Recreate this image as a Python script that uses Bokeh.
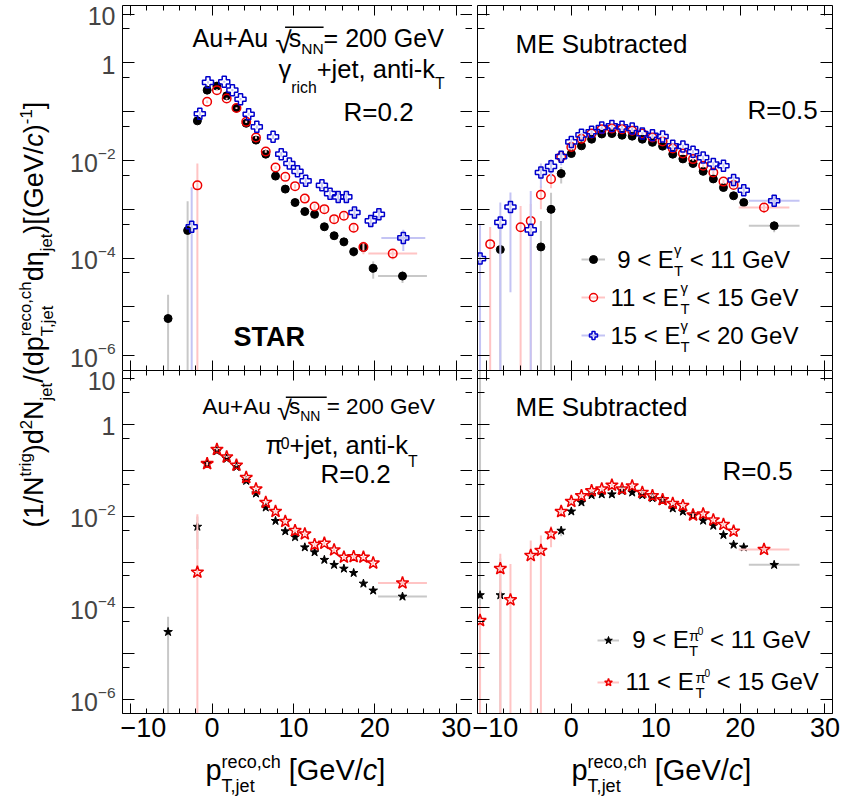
import math
from bokeh.plotting import figure
from bokeh.models import (Range1d, LinearAxis, LogAxis, FixedTicker, Label,
                          BoxAnnotation, Legend, LegendItem, ColumnDataSource,
                          CustomJSTickFormatter)
from bokeh.layouts import row, column
from bokeh.embed import file_html
from bokeh.resources import INLINE

FONT = "Liberation Sans"

# ---------------------------------------------------------------------------
# Per-trigger recoil-jet yields vs p_T,jet^reco,ch [GeV/c]
#   *_x : bin centre, *_y : yield, *_e : statistical uncertainty
#   the last entry of each series is a merged wide bin (half width in *_lastw)
# ---------------------------------------------------------------------------

# gamma_rich + jet, anti-kT R = 0.2
gr02_09_11_x = [-5.4, -3.0, -1.8, -0.6, 0.6, 1.8, 3.0, 4.2, 5.4, 6.6, 7.8, 9.0, 10.2,
                11.4, 12.6, 13.8, 15.0, 16.2, 17.4, 18.6, 19.8, 23.4]
gr02_09_11_y = [5.8e-6, 3.7e-4, 0.065, 0.277, 0.335, 0.212, 0.119, 0.058, 0.0262, 0.0135,
                0.0048, 0.0026, 0.00138, 9.0e-4, 7.9e-4, 4.4e-4, 2.88e-4, 2.16e-4, 1.36e-4,
                1.65e-4, 6.2e-5, 4.3e-5]
gr02_09_11_e = [1.2e-5, 1.1e-3, 0.006, 0.012, 0.012, 0.008, 0.005, 0.003, 0.0015, 0.0009,
                0.0004, 0.00025, 0.00015, 0.00011, 0.0001, 7e-5, 5e-5, 4e-5, 3e-5, 3.5e-5,
                2.4e-5, 1.2e-5]

gr02_11_15_x = [-1.8, -0.6, 0.6, 1.8, 3.0, 4.2, 5.4, 6.6, 7.8, 9.0, 10.2, 11.4, 12.6, 13.8,
                15.0, 16.2, 17.4, 18.6, 22.2]
gr02_11_15_y = [3.1e-3, 0.16, 0.277, 0.186, 0.119, 0.062, 0.0296, 0.0153, 0.0072, 0.00463,
                0.00299, 0.00166, 0.00114, 0.00101, 6.3e-4, 7.4e-4, 4.2e-4, 1.7e-4, 1.24e-4]
gr02_11_15_e = [5.6e-3, 0.01, 0.012, 0.008, 0.005, 0.003, 0.0015, 0.0009, 0.0005, 0.0004,
                0.0003, 0.0002, 0.00015, 0.00015, 0.0001, 0.00012, 9e-5, 5e-5, 3e-5]

gr02_15_20_x = [-2.5, -1.5, -0.5, 1.5, 2.5, 3.5, 4.5, 5.5, 7.5, 8.5, 9.5, 10.5, 11.5,
                13.5, 14.5, 15.5, 16.5, 17.5, 19.5, 20.5, 23.5]
gr02_15_20_y = [4.4e-4, 0.091, 0.40, 0.41, 0.277, 0.18, 0.089, 0.049, 0.0306, 0.0135,
                0.0087, 0.006, 0.00384, 0.0031, 0.0021, 0.0018, 0.0018, 8.6e-4, 5.8e-4,
                7.9e-4, 2.6e-4]
gr02_15_20_e = [2.4e-3, 0.01, 0.02, 0.02, 0.015, 0.01, 0.006, 0.004, 0.003, 0.0015,
                0.001, 0.0008, 0.0006, 0.0005, 0.0004, 0.0004, 0.0004, 0.0002, 0.00015,
                0.0002, 1.2e-4]
gr02_lastw = [3.0, 3.0, 2.7]

# gamma_rich + jet, anti-kT R = 0.5, mixed-event subtracted
gr05_09_11_x = [-8.4, -3.6, -2.4, -1.2, 0.0, 1.2, 2.4, 3.6, 4.8, 6.0, 7.2, 8.4, 9.6, 10.8,
                12.0, 13.2, 14.4, 15.6, 16.8, 18.0, 19.2, 20.4, 24.0]
gr05_09_11_y = [1.5e-4, 1.7e-4, 1.0e-3, 5.4e-3, 0.0139, 0.020, 0.0274, 0.035, 0.0357, 0.033,
                0.0316, 0.0274, 0.0236, 0.0197, 0.0135, 0.0108, 0.0087, 0.006, 0.0042, 0.0028,
                0.0019, 0.00138, 4.6e-4]
gr05_09_11_e = [4e-4, 4.1e-4, 1.2e-3, 0.002, 0.002, 0.0015, 0.0015, 0.0015, 0.0015, 0.0015,
                0.0015, 0.0012, 0.001, 0.001, 0.0008, 0.0007, 0.0006, 0.0005, 0.0004, 0.0003,
                0.00025, 0.0002, 1.2e-4]

gr05_11_15_x = [-9.6, -6.0, -4.8, -3.6, -2.4, -1.2, 0.0, 1.2, 2.4, 3.6, 4.8, 6.0, 7.2, 8.4,
                9.6, 10.8, 12.0, 13.2, 14.4, 15.6, 16.8, 18.0, 19.2, 22.8]
gr05_11_15_y = [1.94e-4, 4.3e-4, 5.8e-4, 0.002, 0.0042, 0.012, 0.019, 0.028, 0.0357, 0.044,
                0.0453, 0.044, 0.0407, 0.0357, 0.0296, 0.0245, 0.0176, 0.0139, 0.0107, 0.0078,
                0.0057, 0.0037, 0.00317, 0.00109]
gr05_11_15_e = [2.4e-4, 7.4e-4, 7e-4, 1e-3, 0.0015, 0.003, 0.003, 0.002, 0.002, 0.002, 0.002,
                0.002, 0.002, 0.0018, 0.0015, 0.0013, 0.001, 0.0009, 0.0008, 0.0006, 0.0005,
                0.0004, 0.0004, 2.5e-4]

gr05_15_20_x = [-10.8, -8.4, -7.2, -4.8, -3.6, -2.4, -1.2, 0.0, 1.2, 2.4, 3.6, 4.8, 6.0, 7.2,
                8.4, 9.6, 10.8, 12.0, 13.2, 14.4, 15.6, 16.8, 18.0, 19.2, 20.4, 24.0]
gr05_15_20_y = [9.8e-5, 5.4e-4, 0.00112, 3.8e-4, 0.0057, 0.0076, 0.012, 0.0241, 0.0336, 0.039,
                0.0474, 0.0513, 0.049, 0.0453, 0.0357, 0.033, 0.031, 0.02, 0.0194, 0.0151,
                0.0115, 0.0085, 0.0078, 0.004, 0.00247, 0.0015]
gr05_15_20_e = [4e-4, 8.4e-4, 1.1e-3, 2e-3, 0.003, 0.003, 0.004, 0.004, 0.003, 0.003, 0.003,
                0.003, 0.003, 0.003, 0.0025, 0.0025, 0.002, 0.0018, 0.0016, 0.0014, 0.0012,
                0.001, 0.0009, 0.0007, 0.0005, 4e-4]
gr05_lastw = [3.0, 3.0, 3.0]

# pi0 + jet, anti-kT R = 0.2
pr02_09_11_x = [-5.4, -1.8, -0.6, 0.6, 1.8, 3.0, 4.2, 5.4, 6.6, 7.8, 9.0, 10.2, 11.4, 12.6,
                13.8, 15.0, 16.2, 17.4, 18.6, 19.8, 23.4]
pr02_09_11_y = [3.0e-5, 0.0059, 0.14, 0.263, 0.18, 0.119, 0.059, 0.0313, 0.0155, 0.0079,
                0.0047, 0.0035, 0.0021, 0.00164, 0.00112, 8.7e-4, 7.2e-4, 5.8e-4, 3.4e-4,
                2.4e-4, 1.77e-4]
pr02_09_11_e = [3.4e-5, 0.004, 0.01, 0.01, 0.008, 0.005, 0.003, 0.0015, 0.0008, 0.0004,
                0.00025, 0.0002, 0.00012, 0.0001, 7e-5, 5e-5, 4e-5, 4e-5, 3e-5, 2.5e-5, 2e-5]

pr02_11_15_x = [-1.8, -0.6, 0.6, 1.8, 3.0, 4.2, 5.4, 6.6, 7.8, 9.0, 10.2, 11.4, 12.6, 13.8,
                15.0, 16.2, 17.4, 18.6, 19.8, 23.4]
pr02_11_15_y = [6.0e-4, 0.14, 0.286, 0.195, 0.129, 0.0695, 0.039, 0.02, 0.0127, 0.0077,
                0.00485, 0.0041, 0.0024, 0.00257, 0.00184, 0.00128, 0.00131, 0.00128, 9.5e-4,
                3.5e-4]
pr02_11_15_e = [0.0104, 0.012, 0.015, 0.01, 0.007, 0.004, 0.002, 0.0012, 0.0008, 0.0005,
                0.0003, 0.00025, 0.00018, 0.00018, 0.00014, 0.0001, 0.0001, 0.0001, 8e-5, 5e-5]
pr02_lastw = [3.0, 3.0]

# pi0 + jet, anti-kT R = 0.5, mixed-event subtracted
pr05_09_11_x = [-10.8, -8.4, -1.2, 0.0, 1.2, 2.4, 3.6, 4.8, 6.0, 7.2, 8.4, 9.6, 10.8, 12.0,
                13.2, 14.4, 15.6, 16.8, 18.0, 19.2, 20.4, 24.0]
pr05_09_11_y = [1.9e-4, 1.9e-4, 0.00484, 0.0127, 0.02, 0.0288, 0.030, 0.030, 0.0357, 0.0329,
                0.0288, 0.0248, 0.0217, 0.0148, 0.0126, 0.0103, 0.008, 0.0062, 0.0039, 0.0024,
                0.0021, 8.7e-4]
pr05_09_11_e = [20.0, 1e-3, 0.0012, 0.0015, 0.0015, 0.0015, 0.0015, 0.0015, 0.0015, 0.0015,
                0.0013, 0.0012, 0.001, 0.0008, 0.0007, 0.0006, 0.0005, 0.0004, 0.0003, 0.0002,
                0.0002, 1e-4]

pr05_11_15_x = [-10.8, -8.4, -7.2, -4.8, -3.6, -2.4, -1.2, 0.0, 1.2, 2.4, 3.6, 4.8, 6.0, 7.2,
                8.4, 9.6, 10.8, 12.0, 13.2, 14.4, 15.6, 16.8, 18.0, 19.2, 22.8]
pr05_11_15_y = [5.3e-5, 7.2e-4, 1.5e-4, 0.00139, 0.00179, 0.0041, 0.0126, 0.021, 0.0279,
                0.0357, 0.039, 0.0475, 0.039, 0.0457, 0.0329, 0.0279, 0.0229, 0.019, 0.017,
                0.0106, 0.0112, 0.0083, 0.0066, 0.0047, 0.00188]
pr05_11_15_e = [6e-5, 8e-4, 7.6e-4, 1.56e-3, 2e-3, 0.002, 0.003, 0.003, 0.003, 0.003, 0.003,
                0.003, 0.003, 0.003, 0.0025, 0.002, 0.002, 0.0015, 0.0013, 0.001, 0.001,
                0.0008, 0.0006, 0.0005, 3e-4]
pr05_lastw = [3.0, 3.0]

# axes
X_RANGE_LEFT = (-11.0, 32.0)
X_RANGE_RIGHT = (-11.1, 30.9)
Y_RANGE = (5e-7, 15.0)
X_MAJOR = [-10, 0, 10, 20, 30]
X_MINOR = [-10, -8, -6, -4, -2, 0, 2, 4, 6, 8, 10, 12, 14, 16, 18, 20, 22, 24, 26, 28, 30]
Y_MAJOR = [1e-6, 1e-5, 1e-4, 1e-3, 1e-2, 1e-1, 1.0, 10.0]
Y_MINOR = [5e-7, 5e-6, 5e-5, 5e-4, 5e-3, 5e-2, 0.5, 5.0]
Y_LABEL_VALUES = [10.0, 1.0, 1e-2, 1e-4, 1e-6]
Y_LABEL_BASE = ["10", "1", "10", "10", "10"]
Y_LABEL_EXP = ["", "", "\u22122", "\u22124", "\u22126"]

# ---------------------------------------------------------------------------
# text helpers: Liberation Sans advance widths (1/1000 em) for rich labels
# ---------------------------------------------------------------------------
ADV = {' ': 278, '(': 333, ')': 333, '+': 584, ',': 278, '-': 333, '.': 278, '/': 278,
       '<': 584, '=': 584, '>': 584, '[': 278, ']': 278, '\u2212': 584, '\u221a': 549,
       '\u03b3': 500, '\u03b7': 556, '\u03c0': 600,
       'A': 667, 'B': 667, 'C': 722, 'D': 722, 'E': 667, 'F': 611, 'G': 778, 'H': 722,
       'I': 278, 'J': 500, 'K': 667, 'L': 556, 'M': 833, 'N': 722, 'O': 778, 'P': 667,
       'Q': 778, 'R': 722, 'S': 667, 'T': 611, 'U': 722, 'V': 667, 'W': 944, 'X': 667,
       'Y': 667, 'Z': 611,
       'a': 556, 'b': 556, 'c': 500, 'd': 556, 'e': 556, 'f': 278, 'g': 556, 'h': 556,
       'i': 222, 'j': 222, 'k': 500, 'l': 222, 'm': 833, 'n': 556, 'o': 556, 'p': 556,
       'q': 556, 'r': 333, 's': 500, 't': 278, 'u': 556, 'v': 500, 'w': 722, 'x': 500,
       'y': 500, 'z': 500}
ADV_BOLD = {'S': 667, 'T': 611, 'A': 722, 'R': 722}

# the renderer places the alphabetic baseline this far (in em) below the anchor
BASE_SHIFT = 0.38


def adv(s, size, bold=False):
    tab = ADV_BOLD if bold else ADV
    return sum(tab.get(c, ADV.get(c, 556)) for c in s) * size / 1000.0


def N(t):
    return (t, 1.0, 0.0, "normal")


def IT(t):
    return (t, 1.0, 0.0, "italic")


def BD(t):
    return (t, 1.0, 0.0, "bold")


def UP(t, dy=0.45, f=0.62):
    return (t, f, dy, "normal")


def DN(t, dy=-0.30, f=0.62):
    return (t, f, dy, "normal")


def STACK(a, b):
    return ("#stack", a, b)


def flatten(run, size):
    out, x = [], 0.0
    for it in run:
        if it[0] == "#stack":
            fa, wa = flatten(it[1], size)
            fb, wb = flatten(it[2], size)
            out += [(t, x + ox, dy, fs, st) for (t, ox, dy, fs, st) in fa + fb]
            x += max(wa, wb)
        else:
            t, f, dy, st = it[:4]
            fs = size * f
            # leading blanks are not rendered, so turn them into an offset
            core = t.lstrip(" ")
            lead = adv(t[:len(t) - len(core)], fs, st == "bold")
            out.append((core, x + lead, dy * size, fs, st))
            # optional 5th entry: advance in em of the run size
            x += it[4] * size if len(it) > 4 else adv(t, fs, st == "bold")
    return out, x


def put(p, origin, px, py, run, size, rotate=False, color="black"):
    """Lay out a run of text pieces starting at page position (px, py) (baseline)."""
    fl, fb = origin
    pieces, width = flatten(run, size)
    placed = []
    for t, ox, dy, fs, st in pieces:
        if rotate:
            sx, sy, ang = (px - dy) - fl - BASE_SHIFT * fs, fb - (py - ox), math.pi / 2
        else:
            sx, sy, ang = px + ox - fl, fb - (py - dy) + BASE_SHIFT * fs, 0.0
        p.add_layout(Label(x=sx, y=sy, x_units="screen", y_units="screen", text=t,
                           angle=ang, text_font=FONT, text_font_size=f"{fs:.1f}px",
                           text_font_style=st, text_color=color, text_align="left",
                           text_baseline="alphabetic"))
        placed.append((t, px + ox, adv(t, fs, st == "bold")))
    return placed


def sqrt_bar(p, origin, placed, py, size, rad):
    """Vinculum of the square-root sign, from the radical over s_NN."""
    fl, fb = origin
    r, after = placed[1], placed[4]
    top = py - rad[2] * size - 0.90 * rad[1] * size
    p.add_layout(BoxAnnotation(left=r[1] + 0.60 * r[2] - fl, right=after[1] - fl,
                               top=fb - top, bottom=fb - top - 1.5,
                               left_units="screen", right_units="screen", top_units="screen",
                               bottom_units="screen", fill_color="black", fill_alpha=1.0,
                               line_color=None))


# ---------------------------------------------------------------------------
# panels
# ---------------------------------------------------------------------------
def no_labels(ax):
    ax.formatter = CustomJSTickFormatter(code="return ''")
    ax.major_label_text_font_size = "1px"
    ax.major_label_standoff = 0


def style_x(ax, labels):
    ax.ticker = FixedTicker(ticks=X_MAJOR, minor_ticks=X_MINOR)
    ax.major_tick_in, ax.major_tick_out = 10, 0
    ax.minor_tick_in, ax.minor_tick_out = 5, 0
    ax.axis_line_color = "black"
    ax.major_tick_line_color = "black"
    ax.minor_tick_line_color = "black"
    if labels:
        ax.major_label_text_font = FONT
        ax.major_label_text_font_size = "27px"
        ax.major_label_text_color = "black"
        ax.major_label_standoff = 4
        ax.major_label_overrides = {-10: "\u221210"}
    else:
        no_labels(ax)


def style_y(ax):
    ax.ticker = FixedTicker(ticks=Y_MAJOR, minor_ticks=Y_MINOR)
    ax.major_tick_in, ax.major_tick_out = 12, 0
    ax.minor_tick_in, ax.minor_tick_out = 7, 0
    ax.axis_line_color = "black"
    ax.major_tick_line_color = "black"
    ax.minor_tick_line_color = "black"
    no_labels(ax)


def panel(width, height, xr, borders, xlabels):
    l, r, t, b = borders
    p = figure(width=width, height=height, x_range=Range1d(*xr), y_range=Range1d(*Y_RANGE),
               y_axis_type="log", output_backend="svg", toolbar_location=None,
               min_border_left=l, min_border_right=r, min_border_top=t, min_border_bottom=b)
    p.grid.visible = False
    p.outline_line_color = None
    p.background_fill_color = "white"
    p.border_fill_color = "white"
    xb, yl = p.xaxis[0], p.yaxis[0]
    xt, yr = LinearAxis(), LogAxis()
    p.add_layout(xt, "above")
    p.add_layout(yr, "right")
    style_x(xb, xlabels)
    style_x(xt, False)
    style_y(yl)
    style_y(yr)
    return p


def strip(width, height, log_y=False, top=0, bottom=0):
    """Blank figure that only carries text (axis titles, y tick labels)."""
    yr = Range1d(*Y_RANGE) if log_y else Range1d(0, 1)
    f = figure(width=width, height=height, x_range=Range1d(0, 1), y_range=yr,
               y_axis_type="log" if log_y else "linear", output_backend="svg",
               toolbar_location=None, min_border_left=0, min_border_right=0,
               min_border_top=top, min_border_bottom=bottom,
               x_axis_location=None, y_axis_location=None)
    f.xgrid.visible = False
    f.ygrid.visible = False
    f.outline_line_color = None
    f.background_fill_color = "white"
    f.border_fill_color = "white"
    return f


def y_tick_labels(f, right_edge, size=25):
    fs_ex = size * 0.62
    for v, base, ex in zip(Y_LABEL_VALUES, Y_LABEL_BASE, Y_LABEL_EXP):
        wex = adv(ex, fs_ex)
        # digits' baseline 11.5 px below the tick, exponent baseline on the tick
        f.add_layout(Label(x=right_edge - wex, y=v, x_units="screen", y_units="data",
                           text=base, text_font=FONT, text_font_size=f"{size}px",
                           text_align="right", text_baseline="alphabetic",
                           y_offset=-11.5 + BASE_SHIFT * size))
        if ex:
            f.add_layout(Label(x=right_edge, y=v, x_units="screen", y_units="data", text=ex,
                               text_font=FONT, text_font_size=f"{fs_ex:.1f}px",
                               text_align="right", text_baseline="alphabetic",
                               y_offset=0.5 + BASE_SHIFT * fs_ex))


def draw(p, x, y, e, lastw, err_color, marker, size, fill, line, lw):
    lo = [max(v - d, 1e-9) for v, d in zip(y, e)]
    hi = [v + d for v, d in zip(y, e)]
    src = ColumnDataSource(dict(x=x, y=y, lo=lo, hi=hi))
    er = p.segment(x0="x", y0="lo", x1="x", y1="hi", source=src,
                   line_color=err_color, line_width=2)
    wide = ColumnDataSource(dict(x0=[x[-1] - lastw], x1=[x[-1] + lastw], y=[y[-1]]))
    p.segment(x0="x0", y0="y", x1="x1", y1="y", source=wide,
              line_color=err_color, line_width=2)
    mk = p.scatter("x", "y", source=src, marker=marker, size=size, fill_color=fill,
                   line_color=line, line_width=lw)
    return er, mk


GRAY, PINK, LBLUE = "#c8c8c8", "#ffc4c4", "#c4c4f4"
RED, BLUE = "#ee0000", "#0000cc"

# page geometry: y title strip 0-60, y tick labels 60-120, panels, x title strip below
ytitle = strip(60, 805)
ytick_top = strip(60, 370, log_y=True, top=5, bottom=0)
ytick_bot = strip(60, 383, log_y=True, top=0, bottom=40)
tl = panel(352, 370, X_RANGE_LEFT, (2, 0, 5, 0), False)
tr = panel(371, 370, X_RANGE_RIGHT, (5, 11, 5, 0), False)
bl = panel(352, 383, X_RANGE_LEFT, (2, 0, 0, 40), True)
br = panel(371, 383, X_RANGE_RIGHT, (5, 11, 0, 40), True)
xtitle = strip(783, 52)

O_YT, O_XT = (0, 805), (60, 805)
O_TL, O_TR, O_BL, O_BR = (122, 370), (477, 370), (122, 713), (477, 713)

y_tick_labels(ytick_top, 55)
y_tick_labels(ytick_bot, 55)

# --- gamma, R = 0.2
draw(tl, gr02_09_11_x, gr02_09_11_y, gr02_09_11_e, gr02_lastw[0], GRAY, "circle", 8, "black", "black", 1)
draw(tl, gr02_11_15_x, gr02_11_15_y, gr02_11_15_e, gr02_lastw[1], PINK, "circle", 8.5, None, RED, 1.5)
draw(tl, gr02_15_20_x, gr02_15_20_y, gr02_15_20_e, gr02_lastw[2], LBLUE, "plus", 11, None, BLUE, 1.5)

# --- gamma, R = 0.5
g_items = []
g_items.append(draw(tr, gr05_09_11_x, gr05_09_11_y, gr05_09_11_e, gr05_lastw[0], GRAY, "circle", 8, "black", "black", 1))
g_items.append(draw(tr, gr05_11_15_x, gr05_11_15_y, gr05_11_15_e, gr05_lastw[1], PINK, "circle", 8.5, None, RED, 1.5))
g_items.append(draw(tr, gr05_15_20_x, gr05_15_20_y, gr05_15_20_e, gr05_lastw[2], LBLUE, "plus", 11, None, BLUE, 1.5))

# --- pi0, R = 0.2
draw(bl, pr02_09_11_x, pr02_09_11_y, pr02_09_11_e, pr02_lastw[0], GRAY, "star", 9, "black", "black", 1)
draw(bl, pr02_11_15_x, pr02_11_15_y, pr02_11_15_e, pr02_lastw[1], PINK, "star", 13, None, RED, 1.5)

# --- pi0, R = 0.5
p_items = []
p_items.append(draw(br, pr05_09_11_x, pr05_09_11_y, pr05_09_11_e, pr05_lastw[0], GRAY, "star", 9, "black", "black", 1))
p_items.append(draw(br, pr05_11_15_x, pr05_11_15_y, pr05_11_15_e, pr05_lastw[1], PINK, "star", 13, None, RED, 1.5))

# legends (glyphs only; the rich-text entries are written next to them)
tr.add_layout(Legend(items=[LegendItem(label=" ", renderers=list(r)) for r in g_items],
                     location=(104, 25), glyph_width=24, glyph_height=20, label_height=20,
                     spacing=18, padding=0, margin=0, label_standoff=0,
                     label_text_font_size="2px", border_line_color=None,
                     background_fill_alpha=0))
br.add_layout(Legend(items=[LegendItem(label=" ", renderers=list(r)) for r in p_items],
                     location=(120, 21), glyph_width=22, glyph_height=20, label_height=20,
                     spacing=22, padding=0, margin=0, label_standoff=0,
                     label_text_font_size="2px", border_line_color=None,
                     background_fill_alpha=0))

# --- panel annotations
RAD = ("\u221a", 1.2, -0.24, "normal", 0.54)
S_TL, S_BL = 25.0, 22.5
pl = put(tl, O_TL, 192, 47, [N("Au+Au "), RAD, N("s"), DN("NN", -0.26), N("= 200 GeV")], S_TL)
sqrt_bar(tl, O_TL, pl, 47, S_TL, RAD)
put(tl, O_TL, 278, 78, [N("\u03b3"), DN("rich", -0.58), N("+jet, anti-k"), DN("T", -0.42)], 25.5)
put(tl, O_TL, 343, 121, [N("R=0.2")], 26)
put(tl, O_TL, 233, 347, [BD("STAR")], 27)

put(tr, O_TR, 515, 53, [N("ME Subtracted")], 26)
put(tr, O_TR, 747, 119, [N("R=0.5")], 26)
for yb, lo_, hi_ in [(268, " 9", "11"), (306, "11", "15"), (344, "15", "20")]:
    put(tr, O_TR, 610, yb, [N(lo_ + " < E"), STACK([UP("\u03b3", 0.55)], [DN("T", -0.33)]),
                            N(" < " + hi_ + " GeV")], 24)

pl = put(bl, O_BL, 202, 415, [N("Au+Au "), RAD, N("s"), DN("NN", -0.26), N(" = 200 GeV")], S_BL)
sqrt_bar(bl, O_BL, pl, 415, S_BL, RAD)
put(bl, O_BL, 265, 454, [N("\u03c0"), UP("0", 0.22), N("+jet, anti-k"), DN("T", -0.5)], 25.5)
put(bl, O_BL, 320, 483, [N("R=0.2")], 26)

put(br, O_BR, 515, 416, [N("ME Subtracted")], 26)
put(br, O_BR, 722, 480, [N("R=0.5")], 26)
for yb, lo_, hi_ in [(648, " 9", "11"), (690, "11", "15")]:
    put(br, O_BR, 625, yb, [N(lo_ + " < E"),
                            STACK([("\u03c0", 0.62, 0.30, "normal"), ("0", 0.42, 0.58, "normal")],
                                  [DN("T", -0.33)]),
                            N(" < " + hi_ + " GeV")], 24)

# --- axis titles
xt_run = [N("p"), STACK([UP("reco,ch", 0.45)], [DN("T,jet", -0.38)]), N(" [GeV/"), IT("c"), N("]")]
put(xtitle, O_XT, 205, 781, xt_run, 29)
put(xtitle, O_XT, 571, 781, xt_run, 29)

yt_run = [N("(1/N"), UP("trig", 0.45), N(")d"), UP("2", 0.45), N("N"), DN("jet", -0.3),
          N("/(dp"), STACK([UP("reco,ch", 0.45)], [DN("T,jet", -0.35)]), N("d\u03b7"),
          DN("jet", -0.3), N(")[(GeV/"), IT("c"), N(")"), UP("-1", 0.45), N("]")]
put(ytitle, O_YT, 44, 527, yt_run, 27, rotate=True)

layout = row(ytitle, column(row(ytick_top, tl, tr), row(ytick_bot, bl, br), xtitle))
open("out.html", "w").write(file_html(layout, INLINE, title="recoil jet spectra"))
